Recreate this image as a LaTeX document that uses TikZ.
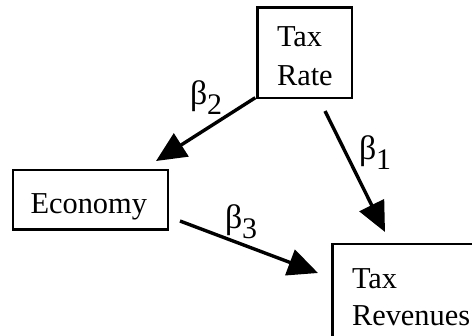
\documentclass[tikz,border=0pt]{standalone}
\usepackage{fontspec}
\setmainfont{Liberation Serif}
\usetikzlibrary{arrows.meta,calc}
\begin{document}
\begin{tikzpicture}[x=1bp,y=-1bp,
 box/.style={draw, line width=2.4bp, rectangle, inner sep=0pt, outer sep=0pt},
 txt/.style={inner sep=0pt, outer sep=0pt, anchor=base west, font=\fontsize{30.5}{36}\selectfont},
 arr/.style={line width=3.4bp, -{Triangle[length=30bp,width=27bp]}},
 coef/.style={inner sep=0pt, outer sep=0pt, anchor=base west, font=\fontsize{34}{36}\selectfont}]
\useasboundingbox (0,0) rectangle (472,335);
\clip (0,0) rectangle (472,335);
\node[box, minimum width=94.4bp, minimum height=90.4bp, anchor=north west] (rate) at (257.3,7.3) {};
\node[box, minimum width=155bp, minimum height=59.3bp, anchor=north west] (econ) at (12.7,170) {};
\node[box, minimum width=170bp, minimum height=120bp, anchor=north west] (rev) at (332.5,244) {};
\node[txt] (t1) at (277,46.7) {Tax};
\node[txt] (t2) at (277,85) {Rate};
\node[txt] (t3) at (30.5,213.3) {Economy};
\node[txt] (t4) at (352,288) {Tax};
\node[txt] (t5) at (352,325) {Revenues};
\draw[arr] ($(rate.south west)+(-2,0)$) -- ($(econ.north east)+(-11.7,-9)$);
\draw[arr] ($(rate.south east)+(-26.7,13.3)$) -- ($(rev.north west)+(52.5,-12)$);
\draw[arr] ($(econ.south east)+(12.3,-8.3)$) -- ($(rev.north west)+(-14.5,29)$);
\node[coef] (b2) at (190,104) {β\raisebox{-10bp}{\fontsize{30}{32}\selectfont 2}};
\node[coef] (b1) at (359,159) {β\raisebox{-10bp}{\fontsize{30}{32}\selectfont 1}};
\node[coef] (b3) at (225,228) {β\raisebox{-10bp}{\fontsize{30}{32}\selectfont 3}};
\end{tikzpicture}
\end{document}
